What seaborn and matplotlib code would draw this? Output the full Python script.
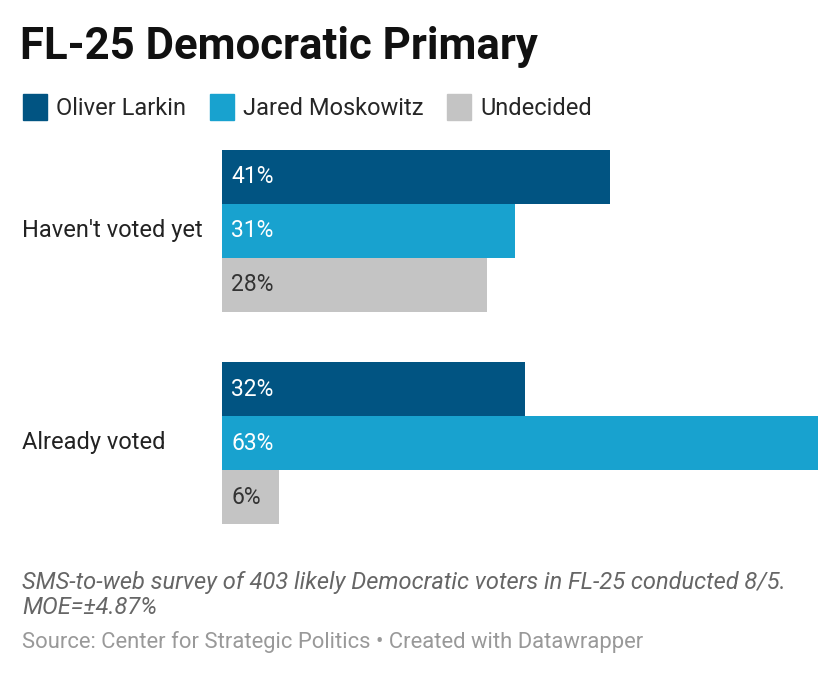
import matplotlib
matplotlib.use("Agg")
import matplotlib.pyplot as plt
import pandas as pd
import seaborn as sns

groups = ["Haven't voted yet", "Already voted"]
candidates = ["Oliver Larkin", "Jared Moskowitz", "Undecided"]
larkin = [41, 32]
moskowitz = [31, 63]
undecided = [28, 6]
colors = ["#015482", "#18a2cf", "#c4c4c4"]

rows = []
for i, g in enumerate(groups):
    for c, vals in zip(candidates, [larkin, moskowitz, undecided]):
        rows.append({"group": g, "candidate": c, "value": vals[i]})
df = pd.DataFrame(rows)

sns.set_theme(style="white")
plt.rcParams["font.family"] = ["Roboto", "DejaVu Sans"]

fig = plt.figure(figsize=(8.4, 6.76), dpi=100)
ax = fig.add_axes([222 / 840, 1 - 524 / 676, 596 / 840, 374 / 676])
sns.barplot(data=df, y="group", x="value", hue="candidate", order=groups,
            hue_order=candidates, palette=colors, width=0.764, orient="h",
            ax=ax, legend=False, saturation=1, linewidth=0)
ax.set_xlim(0, 63)
ax.set_ylim(1.382, -0.382)
ax.axis("off")

for cont, c in zip(ax.containers, candidates):
    for bar in cont:
        w = bar.get_width()
        ax.text(1.0, bar.get_y() + bar.get_height() / 2, f"{w:.0f}%",
                va="center", ha="left", fontsize=16.5,
                color="#333333" if c == "Undecided" else "white")

for i, g in enumerate(groups):
    fig.text(22 / 840, 1 - (231 + i * 212) / 676, g, fontsize=17,
             va="center", ha="left", color="#222222")

fig.text(20 / 840, 1 - 47 / 676, "FL-25 Democratic Primary", fontsize=31.5,
         fontweight="bold", va="center", ha="left", color="#111111")

handles = [plt.Rectangle((0, 0), 1, 1, color=col) for col in colors]
fig.legend(handles, candidates, loc="center left", bbox_to_anchor=(14 / 840, 1 - 107 / 676),
           ncol=3, frameon=False, fontsize=17, handlelength=1.0, handleheight=1.3,
           handletextpad=0.4, columnspacing=1.0, borderaxespad=0)

fig.text(22 / 840, 1 - 582 / 676,
         "SMS-to-web survey of 403 likely Democratic voters in FL-25 conducted 8/5.",
         fontsize=17, style="italic", color="#666666", va="center")
fig.text(22 / 840, 1 - 607 / 676, "MOE=±4.87%", fontsize=17, style="italic",
         color="#666666", va="center")
fig.text(22 / 840, 1 - 642 / 676,
         "Source: Center for Strategic Politics • Created with Datawrapper",
         fontsize=15.8, color="#999999", va="center")

fig.savefig("out.png", dpi=100, facecolor="white")
